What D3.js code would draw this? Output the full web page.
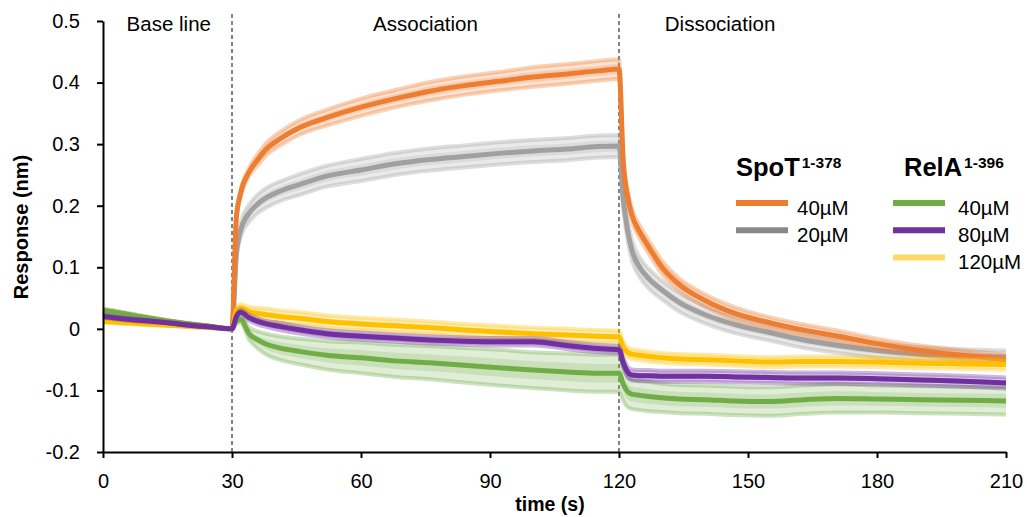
<!DOCTYPE html>
<html>
<head>
<meta charset="utf-8">
<script src="https://cdn.jsdelivr.net/npm/d3@7"></script>
<style>
  body { margin: 0; background: #fff; }
  svg text { font-family: "Liberation Sans", Arial, sans-serif; fill: #000; }
</style>
</head>
<body>
<svg id="chart" width="1027" height="517"></svg>
<script>
// time points (s)
var time = [0,5,10,15,20,25,30, 31,32,34,36,38,41,46,52, 60,68,76,84,92,100,108,115,120,
            121,122,123,125,127,130,134,140, 147,155,163,171,180,190,200,210];

// mean responses (nm)
var spot40 = [0.030,0.024,0.018,0.013,0.008,0.004,0.0, 0.18,0.22,0.255,0.275,0.292,0.308,0.328,0.343,
              0.36,0.374,0.386,0.395,0.402,0.409,0.414,0.419,0.422,
              0.27,0.215,0.185,0.155,0.132,0.1,0.072,0.046, 0.025,0.01,-0.002,-0.012,-0.024,-0.035,-0.043,-0.05];
var spot20 = [0.025,0.02,0.015,0.011,0.007,0.003,0.0, 0.12,0.16,0.188,0.203,0.213,0.223,0.235,0.248,
              0.258,0.268,0.275,0.28,0.285,0.289,0.292,0.296,0.297,
              0.21,0.16,0.128,0.098,0.081,0.063,0.043,0.023, 0.007,-0.006,-0.018,-0.027,-0.035,-0.041,-0.044,-0.046];
var relA40 = [0.03,0.024,0.018,0.012,0.008,0.004,0.0, 0.012,0.015,-0.008,-0.018,-0.025,-0.031,-0.037,-0.043,
              -0.047,-0.052,-0.055,-0.059,-0.063,-0.067,-0.07,-0.072,-0.072,
              -0.09,-0.102,-0.106,-0.108,-0.11,-0.112,-0.114,-0.115, -0.117,-0.118,-0.115,-0.113,-0.114,-0.115,-0.116,-0.117];
var relA80 = [0.02,0.016,0.013,0.01,0.006,0.003,0.0, 0.02,0.027,0.018,0.012,0.008,0.004,-0.002,-0.008,
              -0.012,-0.015,-0.018,-0.02,-0.021,-0.021,-0.027,-0.032,-0.034,
              -0.055,-0.07,-0.075,-0.076,-0.076,-0.077,-0.077,-0.077, -0.078,-0.079,-0.08,-0.08,-0.081,-0.083,-0.085,-0.088];
var relA120 = [0.012,0.01,0.008,0.006,0.004,0.002,0.0, 0.03,0.034,0.028,0.025,0.023,0.02,0.017,0.012,
               0.008,0.005,0.002,-0.002,-0.005,-0.008,-0.01,-0.012,-0.013,
               -0.03,-0.038,-0.041,-0.043,-0.045,-0.047,-0.049,-0.05, -0.052,-0.054,-0.053,-0.053,-0.054,-0.056,-0.057,-0.058];

// standard deviations (nm)
var spot40Sd = [0.002,0.002,0.002,0.001,0.001,0.001,0, 0.003,0.005,0.007,0.009,0.01,0.011,0.012,0.013,
                0.014,0.014,0.015,0.015,0.015,0.016,0.016,0.016,0.016,
                0.012,0.011,0.011,0.011,0.011,0.011,0.01,0.01, 0.01,0.009,0.009,0.009,0.008,0.008,0.008,0.008];
var spot20Sd = [0.002,0.002,0.002,0.001,0.001,0.001,0, 0.008,0.012,0.014,0.015,0.016,0.016,0.017,0.017,
                0.018,0.018,0.018,0.018,0.018,0.018,0.018,0.018,0.018,
                0.017,0.017,0.017,0.016,0.016,0.015,0.015,0.014, 0.014,0.013,0.013,0.012,0.012,0.011,0.011,0.011];
var relA40Sd = [0.003,0.003,0.002,0.002,0.001,0.001,0, 0.003,0.006,0.01,0.014,0.017,0.019,0.021,0.023,
                0.025,0.026,0.027,0.028,0.029,0.029,0.03,0.03,0.03,
                0.027,0.025,0.024,0.024,0.024,0.023,0.023,0.023, 0.023,0.023,0.023,0.023,0.022,0.022,0.022,0.022];
var relA80Sd = [0.002,0.002,0.002,0.001,0.001,0.001,0, 0.003,0.004,0.005,0.005,0.005,0.006,0.006,0.006,
                0.006,0.006,0.006,0.006,0.006,0.006,0.006,0.006,0.006,
                0.008,0.009,0.009,0.009,0.009,0.009,0.009,0.009, 0.009,0.009,0.009,0.009,0.009,0.009,0.009,0.009];
var relA120Sd = [0.002,0.002,0.002,0.001,0.001,0.001,0, 0.004,0.006,0.008,0.009,0.01,0.01,0.01,0.01,
                 0.01,0.01,0.01,0.01,0.01,0.01,0.01,0.01,0.01,
                 0.009,0.008,0.008,0.008,0.008,0.008,0.008,0.008, 0.008,0.008,0.008,0.008,0.008,0.008,0.008,0.008];

var xTicks = [0,30,60,90,120,150,180,210];
var yTicks = [-0.2,-0.1,0,0.1,0.2,0.3,0.4,0.5];
var yTickLabels = ["-0.2","-0.1","0","0.1","0.2","0.3","0.4","0.5"];
var phaseLabels = ["Base line", "Association", "Dissociation"];
var phaseCenters = [15.3, 75, 143.5]; // label x (s)

var series = [
  {group:"SpoT", name:"20µM", v:spot20, sd:spot20Sd, color:"#a0a0a0", legend:"#898989"},
  {group:"SpoT", name:"40µM", v:spot40, sd:spot40Sd, color:"#ed7d31", legend:"#ed7d31"},
  {group:"RelA", name:"40µM", v:relA40, sd:relA40Sd, color:"#70ad47", legend:"#70ad47"},
  {group:"RelA", name:"120µM", v:relA120, sd:relA120Sd, color:"#ffc000", legend:"#ffd966"},
  {group:"RelA", name:"80µM", v:relA80, sd:relA80Sd, color:"#7030a0", legend:"#7030a0"}
];

var svg = d3.select("#chart");
var x = d3.scaleLinear().domain([0,210]).range([103,1006]);
var y = d3.scaleLinear().domain([-0.2,0.5]).range([452,21]);

// phase separators
svg.selectAll(".sep").data([30,120]).enter().append("line")
  .attr("x1", d => x(d)).attr("x2", d => x(d))
  .attr("y1", 14).attr("y2", y(-0.2))
  .attr("stroke", "#404040").attr("stroke-width", 1.3)
  .attr("stroke-dasharray", "4,3");

svg.selectAll(".phase").data(phaseLabels).enter().append("text")
  .attr("x", (d,i) => x(phaseCenters[i]))
  .attr("y", 31).attr("text-anchor", "middle")
  .style("font-size", "20.5px")
  .text(d => d);

var curve = d3.curveMonotoneX;
series.forEach(function(s){
  var pts = time.map((t,i) => ({t:t, m:s.v[i], sd:s.sd[i]}));
  var g = svg.append("g");
  g.append("path").datum(pts)
    .attr("d", d3.area().curve(curve).x(d => x(d.t)).y0(d => y(d.m - d.sd)).y1(d => y(d.m + d.sd)))
    .attr("fill", s.color).attr("opacity", 0.22);
  g.append("path").datum(pts)
    .attr("d", d3.area().curve(curve).x(d => x(d.t)).y0(d => y(d.m - d.sd*0.5)).y1(d => y(d.m + d.sd*0.5)))
    .attr("fill", s.color).attr("opacity", 0.2);
  [1,-1].forEach(function(k){
    g.append("path").datum(pts)
      .attr("d", d3.line().curve(curve).x(d => x(d.t)).y(d => y(d.m + k*d.sd)))
      .attr("fill", "none").attr("stroke", s.color).attr("stroke-width", 4).attr("opacity", 0.35);
  });
  g.append("path").datum(pts)
    .attr("d", d3.line().curve(curve).x(d => x(d.t)).y(d => y(d.m)))
    .attr("fill", "none").attr("stroke", s.color).attr("stroke-width", 5)
    .attr("stroke-linejoin", "round");
});

// axes
var yAxis = svg.append("g").attr("transform", "translate(" + x(0) + ",0)")
  .call(d3.axisLeft(y).tickValues(yTicks).tickSizeOuter(0).tickSizeInner(6).tickPadding(17)
        .tickFormat((d,i) => yTickLabels[i]));
var xAxis = svg.append("g").attr("transform", "translate(0," + y(-0.2) + ")")
  .call(d3.axisBottom(x).tickValues(xTicks).tickSizeOuter(0).tickSizeInner(6).tickPadding(16));
[yAxis, xAxis].forEach(function(a){
  a.select(".domain").attr("stroke", "#000").attr("stroke-width", 2);
  a.selectAll(".tick line").attr("stroke", "#000").attr("stroke-width", 2);
  a.selectAll(".tick text").style("font-size", "20px").style("font-family", "'Liberation Sans', Arial, sans-serif").attr("fill", "#000");
});

svg.append("text").attr("x", 550).attr("y", 511).attr("text-anchor", "middle")
  .style("font-size", "19.5px").style("font-weight", "bold").text("time (s)");
svg.append("text").attr("transform", "translate(28,227) rotate(-90)").attr("text-anchor", "middle")
  .style("font-size", "20px").style("font-weight", "bold").text("Response (nm)");

// legend
var groups = [
  {name:"SpoT", sup:"1-378", tx:736, lx:736, labx:797},
  {name:"RelA", sup:"1-396", tx:904, lx:893, labx:958}
];
var legendOrder = {"SpoT":["40µM","20µM"], "RelA":["40µM","80µM","120µM"]};
groups.forEach(function(gr){
  var t = svg.append("text").attr("x", gr.tx).attr("y", 176)
    .style("font-size", "25.5px").style("font-weight", "bold");
  t.append("tspan").text(gr.name);
  t.append("tspan").attr("dy", -8).attr("dx", 2).style("font-size", "15.5px").text(gr.sup);
  legendOrder[gr.name].forEach(function(nm, i){
    var s = series.find(d => d.group === gr.name && d.name === nm);
    var ly = 203 + i*27.3;
    svg.append("line").attr("x1", gr.lx).attr("x2", gr.lx + 52).attr("y1", ly).attr("y2", ly)
      .attr("stroke", s.legend).attr("stroke-width", 6);
    svg.append("text").attr("x", gr.labx).attr("y", ly + 11.5)
      .style("font-size", "20.5px").text(nm);
  });
});
</script>
</body>
</html>
